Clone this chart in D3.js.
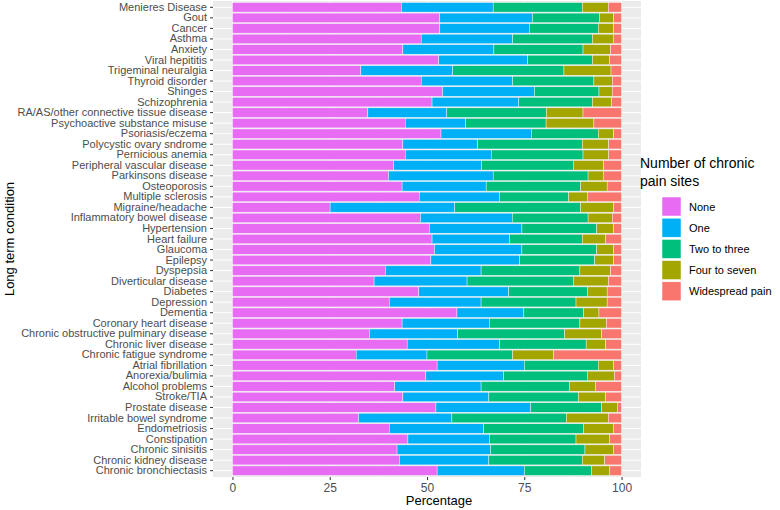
<!DOCTYPE html>
<html><head><meta charset="utf-8">
<script src="https://cdn.jsdelivr.net/npm/d3@7"></script>
<style>body{margin:0;background:#fff}svg{display:block;font-family:"Liberation Sans",Arial,sans-serif}</style>
</head><body><svg id="c" width="780" height="510"></svg>
<script>
const categories = ["Menieres Disease","Gout","Cancer","Asthma","Anxiety","Viral hepititis","Trigeminal neuralgia","Thyroid disorder","Shinges","Schizophrenia","RA/AS/other connective tissue disease","Psychoactive substance misuse","Psoriasis/eczema","Polycystic ovary sndrome","Pernicious anemia","Peripheral vascular disease","Parkinsons disease","Osteoporosis","Multiple sclerosis","Migraine/headache","Inflammatory bowel disease","Hypertension","Heart failure","Glaucoma","Epilepsy","Dyspepsia","Diverticular disease","Diabetes","Depression","Dementia","Coronary heart disease","Chronic obstructive pulminary disease","Chronic liver disease","Chronic fatigue syndrome","Atrial fibrillation","Anorexia/bulimia","Alcohol problems","Stroke/TIA","Prostate disease","Irritable bowel syndrome","Endometriosis","Constipation","Chronic sinisitis","Chronic kidney disease","Chronic bronchiectasis"];
const seriesNames = ["None","One","Two to three","Four to seven","Widespread pain"];
const seriesColors = ["#E76BF3","#00B0F6","#00BF7D","#A3A500","#F8766D"];
const noneVals = [43.4,53.3,53.3,48.5,43.8,53.0,33.0,48.5,54.0,51.3,34.8,44.4,53.6,43.8,44.4,41.4,40.1,43.6,48.0,25.1,48.3,50.6,51.3,51.9,51.0,39.3,36.4,47.9,40.3,57.7,43.6,35.2,44.9,31.8,52.6,49.7,41.7,43.8,52.3,32.4,40.3,45.1,42.3,42.9,52.6];
const oneVals = [23.6,23.8,23.0,23.5,23.4,22.9,23.6,23.5,23.6,22.3,20.3,15.5,23.2,19.2,22.1,22.6,26.9,21.6,20.6,32.0,23.6,23.8,19.9,22.5,22.8,24.6,23.9,23.1,23.6,17.2,22.4,22.7,23.7,18.2,22.4,20.0,22.2,22.1,24.3,24.0,24.3,20.9,24.0,23.0,22.4];
const twoThreeVals = [22.9,17.2,17.7,20.5,22.9,16.6,28.6,20.9,16.6,18.9,25.6,20.7,17.2,26.9,23.6,23.6,24.4,24.3,17.8,32.4,19.5,19.2,18.7,19.2,19.3,25.4,27.3,20.2,24.4,15.4,23.3,27.5,22.3,22.0,19.0,21.5,22.7,23.0,18.3,29.4,25.7,22.3,24.3,24.0,17.3];
const fourSevenVals = [6.7,3.7,4.0,5.4,7.1,4.4,12.1,4.7,3.4,4.9,9.4,12.3,4.0,6.8,6.6,7.8,3.9,6.8,4.8,8.5,6.2,4.4,6.0,4.4,4.9,7.9,9.0,5.1,8.0,3.9,6.8,9.5,5.0,10.6,4.0,7.0,6.7,7.0,4.0,10.8,7.6,8.6,7.3,5.8,4.7];
const widespreadVals = [3.4,2.0,2.0,2.1,2.8,3.1,2.7,2.4,2.4,2.6,9.9,7.1,2.0,3.3,3.3,4.6,4.7,3.7,8.8,2.0,2.4,2.0,4.1,2.0,2.0,2.8,3.4,3.7,3.7,5.8,3.9,5.1,4.1,17.4,2.0,1.8,6.7,4.1,1.1,3.4,2.1,3.1,2.1,4.3,3.0];
const xTicks = [0,25,50,75,100];

const rows = categories.map((c,i)=>({cat:c,"None":noneVals[i],"One":oneVals[i],"Two to three":twoThreeVals[i],"Four to seven":fourSevenVals[i],"Widespread pain":widespreadVals[i]}));
const stacked = d3.stack().keys(seriesNames)(rows);

const svg = d3.select("#c");
const P = {l:213, r:641, t:1, b:477};
const x = d3.scaleLinear().domain([-5,105]).range([P.l,P.r]);
const y = d3.scaleBand().domain(categories).range([P.t,P.b]).paddingInner(0.1).paddingOuter(0.15);
const color = d3.scaleOrdinal().domain(seriesNames).range(seriesColors);

svg.append("rect").attr("x",P.l).attr("y",P.t).attr("width",P.r-P.l).attr("height",P.b-P.t).attr("fill","#EBEBEB");
// grid
const minor = [12.5,37.5,62.5,87.5];
svg.append("g").selectAll("line").data(minor).join("line")
  .attr("x1",d=>x(d)).attr("x2",d=>x(d)).attr("y1",P.t).attr("y2",P.b).attr("stroke","#fff").attr("stroke-width",0.5);
svg.append("g").selectAll("line").data(xTicks).join("line")
  .attr("x1",d=>x(d)).attr("x2",d=>x(d)).attr("y1",P.t).attr("y2",P.b).attr("stroke","#fff").attr("stroke-width",1);
svg.append("g").selectAll("line").data(categories).join("line")
  .attr("x1",P.l).attr("x2",P.r).attr("y1",d=>y(d)+y.bandwidth()/2).attr("y2",d=>y(d)+y.bandwidth()/2).attr("stroke","#fff").attr("stroke-width",1);

// bars
svg.append("g").selectAll("g").data(stacked).join("g").attr("fill",d=>color(d.key))
  .selectAll("rect").data(d=>d).join("rect")
  .attr("x",d=>x(d[0])).attr("width",d=>x(d[1])-x(d[0]))
  .attr("y",d=>y(d.data.cat)).attr("height",y.bandwidth())
  .attr("stroke","#fff").attr("stroke-width",0.4);

// axes
const yAxis = d3.axisLeft(y).tickSize(3).tickPadding(3);
const gy = svg.append("g").attr("transform",`translate(${P.l},0)`).call(yAxis);
gy.select(".domain").remove();
gy.selectAll("line").attr("stroke","#333");
gy.selectAll("text").attr("fill","#4D4D4D").attr("font-size",11).attr("font-family","Liberation Sans, Arial, sans-serif");

const xAxis = d3.axisBottom(x).tickValues(xTicks).tickFormat(d3.format("d")).tickSize(3).tickPadding(3);
const gx = svg.append("g").attr("transform",`translate(0,${P.b})`).call(xAxis);
gx.select(".domain").remove();
gx.selectAll("line").attr("stroke","#333");
gx.selectAll("text").attr("fill","#4D4D4D").attr("font-size",12).attr("font-family","Liberation Sans, Arial, sans-serif");

svg.append("text").attr("x",(P.l+P.r)/2+12).attr("y",505).attr("text-anchor","middle").attr("font-size",13).attr("fill","#000").text("Percentage");
svg.append("text").attr("transform",`translate(14,${(P.t+P.b)/2}) rotate(-90)`).attr("text-anchor","middle").attr("font-size",13).attr("fill","#000").text("Long term condition");

// legend
const lg = svg.append("g").attr("transform","translate(640,0)");
lg.append("text").attr("x",0).attr("y",168).attr("font-size",14).attr("fill","#000").text("Number of chronic");
lg.append("text").attr("x",0).attr("y",186).attr("font-size",14).attr("fill","#000").text("pain sites");
const items = lg.selectAll("g.item").data(seriesNames).join("g").attr("class","item")
  .attr("transform",(d,i)=>`translate(22,${197+i*21.2})`);
items.append("rect").attr("width",19).attr("height",19).attr("fill",d=>color(d)).attr("stroke","#fff").attr("stroke-width",0.5);
items.append("text").attr("x",27).attr("y",13.5).attr("font-size",11).attr("fill","#000").text(d=>d);
</script></body></html>
